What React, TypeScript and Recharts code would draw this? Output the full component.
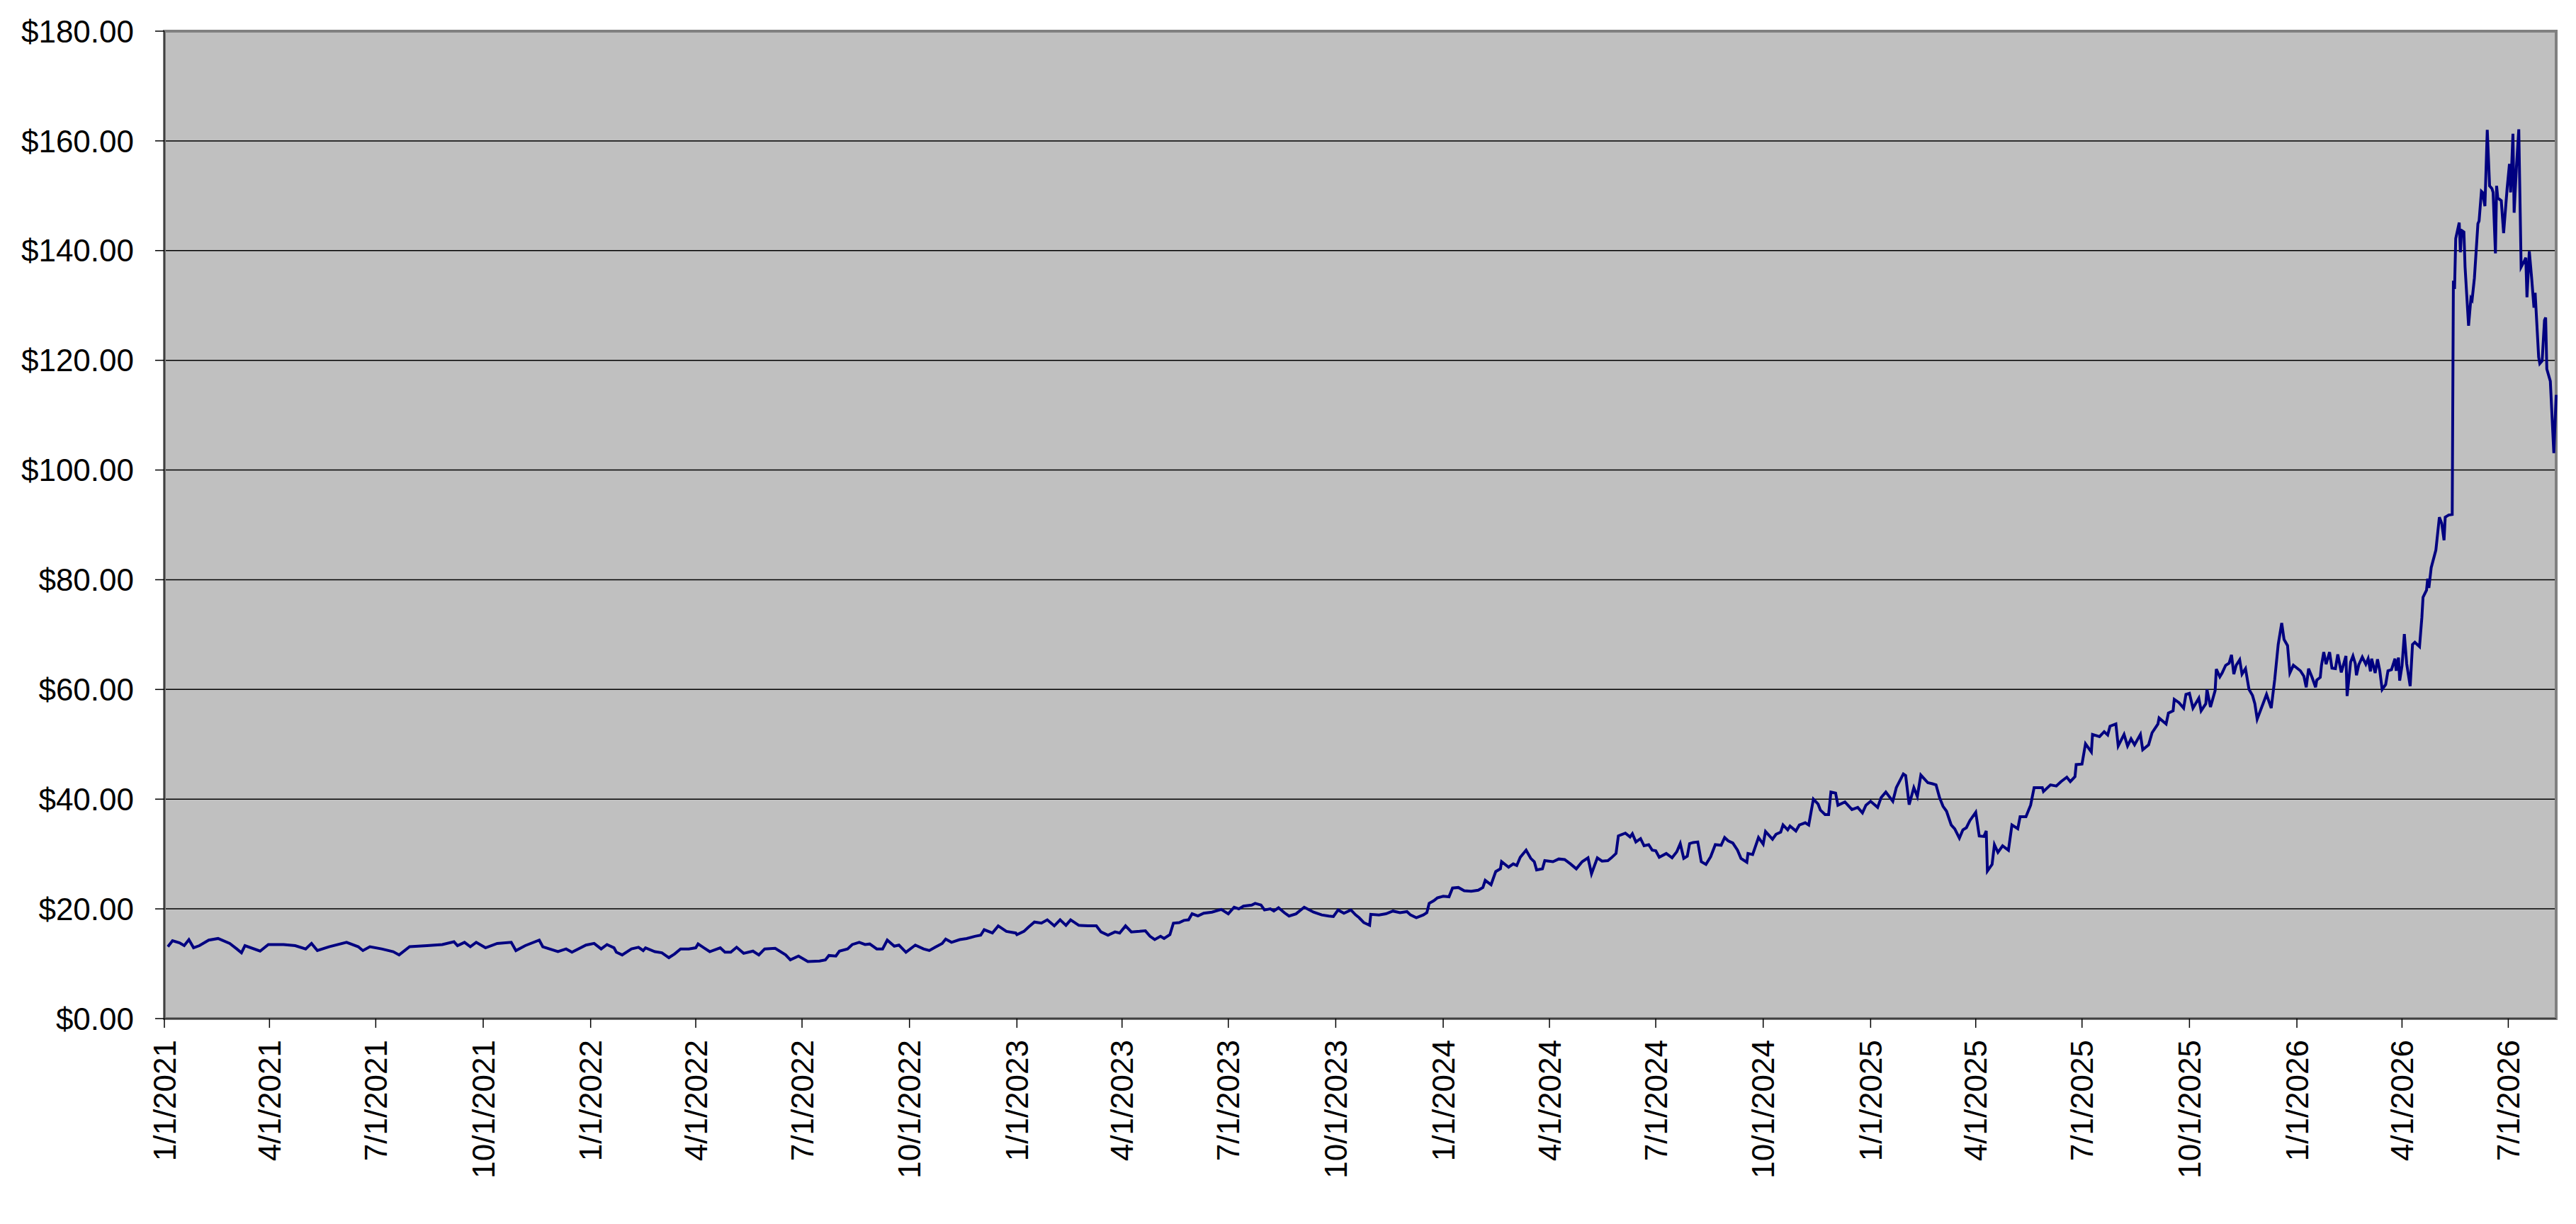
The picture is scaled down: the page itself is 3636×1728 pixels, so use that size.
import { LineChart, Line, XAxis, YAxis, CartesianGrid, ReferenceArea } from 'recharts';

// Closing prices: [days since 1/1/2021, price]
const y2021: [number, number][] = [
  [3, 13.1], [7, 14.2], [13, 13.8], [17, 13.3], [21, 14.4], [25, 12.9], [30, 13.3], [38, 14.3],
  [46, 14.6], [56, 13.7], [62, 12.7], [66, 12.0], [69, 13.3], [82, 12.3], [89, 13.5], [102, 13.5],
  [112, 13.3], [121, 12.7], [126, 13.7], [131, 12.4], [141, 13.1], [156, 13.9], [166, 13.1], [170, 12.4],
  [176, 13.1], [186, 12.7], [196, 12.2], [201, 11.6], [210, 13.1], [225, 13.3], [238, 13.5], [248, 14.0],
  [251, 13.3], [257, 13.9], [262, 13.1], [267, 13.9], [275, 12.9], [285, 13.7], [297, 13.9], [301, 12.4],
  [309, 13.3], [321, 14.3], [324, 13.1], [337, 12.2], [344, 12.7], [349, 12.1], [361, 13.4],
];

const y2022: [number, number][] = [
  [368, 13.7], [374, 12.7], [379, 13.5], [385, 12.9], [387, 12.1], [392, 11.6], [400, 12.7], [406, 13.0],
  [410, 12.4], [412, 12.9], [420, 12.2], [426, 12.0], [432, 11.1], [437, 11.8], [442, 12.7], [449, 12.7],
  [455, 12.9], [457, 13.6], [462, 12.9], [467, 12.2], [476, 12.9], [480, 12.1], [485, 12.1], [490, 13.0],
  [496, 11.9], [504, 12.3], [509, 11.6], [514, 12.7], [523, 12.8], [532, 11.6], [536, 10.7], [543, 11.4],
  [551, 10.4], [561, 10.5], [566, 10.7], [569, 11.5], [575, 11.4], [578, 12.3], [585, 12.7], [589, 13.5],
  [595, 13.9], [600, 13.5], [604, 13.6], [610, 12.7], [615, 12.7], [619, 14.3], [625, 13.2], [629, 13.4],
  [635, 12.1], [643, 13.4], [650, 12.7], [655, 12.4], [660, 13.0], [666, 13.7], [669, 14.5], [674, 13.9],
  [681, 14.4], [687, 14.6], [694, 15.0], [699, 15.2], [702, 16.2], [709, 15.6], [714, 16.9], [721, 15.9],
  [729, 15.6],
];

const y2023: [number, number][] = [
  [730, 15.3], [736, 15.9], [740, 16.7], [745, 17.6], [751, 17.4], [756, 18.0], [762, 16.9], [767, 18.0],
  [772, 17.0], [776, 18.0], [783, 17.0], [791, 16.9], [798, 16.9], [802, 15.8], [808, 15.2], [814, 15.8],
  [818, 15.6], [823, 16.9], [828, 15.8], [835, 15.9], [840, 16.0], [844, 15.0], [848, 14.4], [853, 15.0],
  [856, 14.6], [861, 15.3], [864, 17.4], [869, 17.5], [873, 17.9], [877, 18.0], [880, 19.1], [885, 18.7],
  [890, 19.2], [897, 19.4], [905, 19.9], [911, 19.1], [916, 20.3], [920, 20.0], [924, 20.5], [931, 20.7],
  [934, 21.0], [939, 20.7], [942, 19.8], [947, 20.0], [950, 19.6], [954, 20.2], [959, 19.3], [963, 18.7],
  [969, 19.1], [976, 20.3], [984, 19.4], [991, 18.9], [997, 18.7], [1001, 18.6], [1005, 19.8], [1010, 19.2],
  [1016, 19.8], [1020, 18.9], [1023, 18.4], [1027, 17.5], [1032, 17.0], [1033, 19.0], [1040, 18.9], [1046, 19.1],
  [1052, 19.6], [1058, 19.3], [1064, 19.5], [1067, 18.9], [1072, 18.4], [1078, 18.9], [1081, 19.3], [1083, 21.0],
  [1087, 21.5], [1090, 22.0],
];

const y2024: [number, number][] = [
  [1095, 22.3], [1100, 22.2], [1103, 23.8], [1108, 23.9], [1113, 23.3], [1119, 23.2], [1125, 23.4], [1129, 23.9],
  [1131, 25.2], [1136, 24.4], [1140, 26.8], [1144, 27.3], [1145, 28.6], [1151, 27.6], [1155, 28.2], [1158, 27.9],
  [1161, 29.4], [1166, 30.7], [1170, 29.2], [1173, 28.6], [1175, 27.1], [1180, 27.3], [1182, 28.8], [1189, 28.6],
  [1194, 29.1], [1199, 29.0], [1204, 28.2], [1209, 27.3], [1214, 28.6], [1219, 29.3], [1222, 26.4], [1227, 29.3],
  [1231, 28.7], [1236, 28.8], [1239, 29.3], [1243, 30.1], [1245, 33.3], [1251, 33.8], [1255, 33.1], [1257, 33.7],
  [1260, 32.2], [1264, 32.8], [1267, 31.5], [1271, 31.7], [1274, 30.7], [1277, 30.6], [1280, 29.4], [1286, 30.1],
  [1291, 29.3], [1295, 30.4], [1298, 31.9], [1301, 29.2], [1304, 29.6], [1306, 31.9], [1309, 32.1], [1313, 32.2],
  [1316, 28.6], [1320, 28.1], [1324, 29.5], [1328, 31.7], [1333, 31.6], [1336, 33.0], [1339, 32.4], [1343, 32.0],
  [1347, 30.7], [1350, 29.2], [1355, 28.5], [1356, 30.1], [1360, 29.9], [1365, 33.0], [1369, 31.8], [1371, 34.1],
  [1377, 32.7], [1380, 33.6], [1384, 34.0], [1386, 35.3], [1390, 34.4], [1392, 35.1], [1397, 34.2], [1400, 35.3],
  [1405, 35.7], [1408, 35.3], [1412, 40.0], [1416, 39.1], [1418, 38.0], [1422, 37.2], [1425, 37.2], [1427, 41.3],
  [1431, 41.1], [1433, 38.9], [1439, 39.5], [1445, 38.1], [1450, 38.5], [1454, 37.5], [1457, 38.9],
];

const y2025: [number, number][] = [
  [1461, 39.6], [1467, 38.5], [1470, 40.3], [1474, 41.3], [1480, 39.6], [1483, 42.1], [1489, 44.6], [1491, 44.3],
  [1494, 39.0], [1498, 42.1], [1501, 40.5], [1504, 44.4], [1510, 43.0], [1514, 42.8], [1517, 42.6], [1520, 40.3],
  [1523, 38.7], [1526, 37.8], [1530, 35.3], [1533, 34.6], [1537, 32.9], [1540, 34.4], [1543, 34.8], [1546, 36.1],
  [1551, 37.6], [1554, 33.3], [1558, 33.2], [1560, 34.2], [1561, 26.9], [1565, 28.1], [1567, 31.7], [1570, 30.3],
  [1574, 31.5], [1579, 30.7], [1582, 35.3], [1587, 34.6], [1589, 36.8], [1594, 36.8], [1598, 38.9], [1601, 42.1],
  [1608, 42.1], [1609, 41.4], [1615, 42.6], [1620, 42.4], [1624, 43.2], [1629, 44.0], [1632, 43.2], [1636, 44.1],
  [1637, 46.3], [1642, 46.4], [1645, 50.1], [1650, 48.6], [1651, 51.8], [1657, 51.4], [1661, 52.3], [1664, 51.7],
  [1666, 53.3], [1671, 53.7], [1673, 49.7], [1678, 51.8], [1681, 49.7], [1684, 51.0], [1687, 49.9], [1692, 51.8],
  [1694, 49.0], [1699, 49.9], [1702, 52.1], [1707, 53.7], [1708, 54.8], [1714, 53.7], [1716, 55.7], [1720, 56.1],
  [1721, 58.2], [1725, 57.6], [1729, 56.6], [1731, 59.1], [1734, 59.3], [1737, 56.6], [1742, 58.4], [1744, 56.1],
  [1748, 57.4], [1749, 60.0], [1752, 56.8], [1756, 59.8], [1757, 63.7], [1760, 62.3], [1762, 63.0], [1765, 64.4],
  [1768, 64.8], [1770, 66.3], [1772, 62.8], [1774, 64.4], [1777, 65.4], [1779, 62.8], [1782, 63.8], [1785, 60.0],
  [1788, 58.9], [1790, 57.4], [1792, 54.6], [1797, 57.4], [1800, 59.1], [1804, 56.6], [1807, 61.8], [1810, 68.2],
  [1813, 72.1], [1815, 69.1], [1818, 68.0], [1820, 63.0], [1823, 64.4],
];

const y2026: [number, number][] = [
  [1829, 63.4], [1832, 62.4], [1834, 60.4], [1836, 63.8], [1839, 62.2], [1842, 60.4], [1843, 61.7], [1846, 62.2],
  [1847, 64.3], [1849, 66.8], [1851, 64.6], [1854, 66.8], [1856, 63.9], [1859, 63.8], [1861, 66.4], [1864, 63.1],
  [1868, 66.1], [1869, 58.8], [1872, 65.0], [1874, 66.1], [1876, 64.7], [1877, 62.6], [1879, 64.5], [1882, 65.9],
  [1885, 64.6], [1887, 65.6], [1889, 63.3], [1890, 65.6], [1893, 63.0], [1895, 65.5], [1897, 63.4], [1899, 60.0],
  [1902, 60.9], [1904, 63.4], [1907, 63.6], [1910, 65.6], [1911, 63.4], [1913, 65.8], [1914, 61.6], [1916, 64.3],
  [1918, 70.1], [1920, 64.7], [1923, 60.6], [1925, 68.2], [1927, 68.6], [1931, 67.8], [1933, 73.1], [1934, 76.8],
  [1937, 78.1], [1938, 80.2], [1939, 78.5], [1941, 82.2], [1945, 85.4], [1948, 91.4], [1950, 90.3], [1952, 87.2],
  [1953, 91.4], [1956, 91.8], [1959, 91.9], [1960, 134.5], [1961, 133.0], [1962, 142.2], [1965, 145.1], [1966, 139.7],
  [1967, 143.7], [1969, 143.4], [1970, 137.0], [1973, 126.3], [1975, 131.3], [1976, 131.0], [1978, 135.0], [1981, 144.9],
  [1982, 145.4], [1984, 150.8], [1985, 150.6], [1987, 148.1], [1989, 162.0], [1991, 151.8], [1993, 151.3], [1994, 150.6],
  [1996, 139.5], [1997, 151.8], [1998, 149.6], [2001, 149.1], [2003, 143.2], [2006, 151.3], [2008, 155.8], [2009, 150.6],
  [2011, 161.3], [2012, 146.9], [2014, 155.3], [2016, 162.1], [2018, 137.0], [2021, 138.2], [2022, 138.7], [2023, 131.5],
  [2025, 139.9], [2027, 135.0], [2029, 129.6], [2030, 132.3], [2033, 120.6], [2034, 119.4], [2036, 119.9], [2038, 127.3],
  [2039, 127.8], [2040, 118.4], [2043, 116.2], [2046, 103.1], [2048, 113.7],
];

const xTickLabels = [
  '1/1/2021', '4/1/2021', '7/1/2021', '10/1/2021',
  '1/1/2022', '4/1/2022', '7/1/2022', '10/1/2022',
  '1/1/2023', '4/1/2023', '7/1/2023', '10/1/2023',
  '1/1/2024', '4/1/2024', '7/1/2024', '10/1/2024',
  '1/1/2025', '4/1/2025', '7/1/2025', '10/1/2025',
  '1/1/2026', '4/1/2026', '7/1/2026',
];

const yTicks = [0, 20, 40, 60, 80, 100, 120, 140, 160, 180];

const FONT = '"Liberation Sans", Arial, sans-serif';
const DAY_MS = 86400000;
const START = Date.UTC(2021, 0, 1);

// m/d/yyyy -> days since 1/1/2021
function labelToDay(label: string) {
  const [m, d, y] = label.split('/').map(Number);
  return Math.round((Date.UTC(y, m - 1, d) - START) / DAY_MS);
}

function dayToLabel(day: number) {
  const dt = new Date(START + day * DAY_MS);
  return `${dt.getUTCMonth() + 1}/${dt.getUTCDate()}/${dt.getUTCFullYear()}`;
}

const data = [...y2021, ...y2022, ...y2023, ...y2024, ...y2025, ...y2026].map(([day, price]) => ({ day, price }));
const xTicks = xTickLabels.map(labelToDay);
const lastDay = data[data.length - 1].day;

function DateTick({ x, y, payload }: { x?: number; y?: number; payload?: { value: number } }) {
  if (x == null || y == null || !payload) return null;
  return (
    <text
      x={x}
      y={y}
      transform={`rotate(-90 ${x} ${y})`}
      textAnchor="end"
      dominantBaseline="central"
      fontSize={44}
      fontFamily={FONT}
      fill="#000"
    >
      {dayToLabel(payload.value)}
    </text>
  );
}

export default function App() {
  return (
    <div style={{ width: 3620, height: 1712, background: '#fff', fontFamily: FONT }}>
      <LineChart width={3620} height={1712} data={data} margin={{ top: 36, right: 20, left: 0, bottom: 0 }}>
        <CartesianGrid vertical={false} fill="#C0C0C0" fillOpacity={1} stroke="#000" strokeWidth={1.5} />
        <ReferenceArea
          x1={0}
          x2={lastDay}
          y1={0}
          y2={180}
          fill="none"
          stroke="#808080"
          strokeWidth={4}
          ifOverflow="visible"
        />
        <XAxis
          dataKey="day"
          type="number"
          domain={[0, lastDay]}
          ticks={xTicks}
          interval={0}
          height={282}
          tickSize={13}
          tickMargin={17}
          tick={<DateTick />}
          axisLine={{ stroke: '#404040', strokeWidth: 2 }}
          tickLine={{ stroke: '#000', strokeWidth: 1.5 }}
        />
        <YAxis
          domain={[0, 180]}
          ticks={yTicks}
          interval={0}
          width={224}
          tickSize={13}
          tickMargin={30}
          tickFormatter={(v: number) => `$${v.toFixed(2)}`}
          tick={{ fontSize: 44, fill: '#000', fontFamily: FONT }}
          axisLine={{ stroke: '#404040', strokeWidth: 2 }}
          tickLine={{ stroke: '#000', strokeWidth: 1.5 }}
        />
        <Line
          type="linear"
          dataKey="price"
          stroke="#000080"
          strokeWidth={4}
          dot={false}
          isAnimationActive={false}
        />
      </LineChart>
    </div>
  );
}
